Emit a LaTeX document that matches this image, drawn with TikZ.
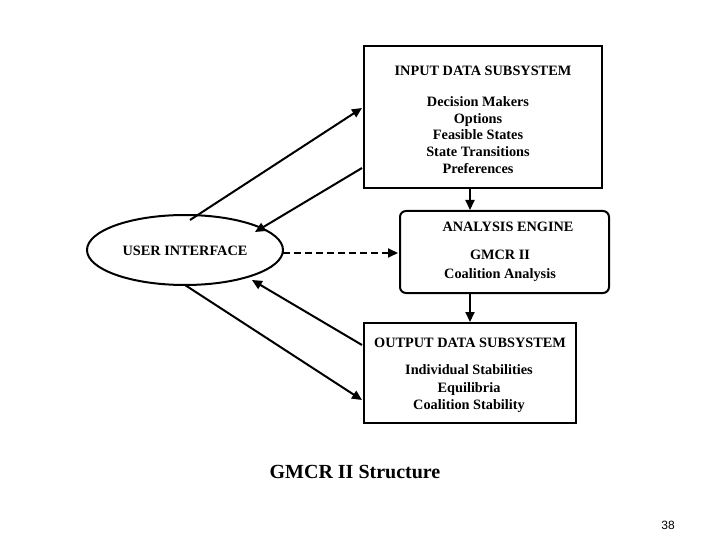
\documentclass[tikz,border=0pt]{standalone}
\usepackage{fontspec}
\setmainfont{Liberation Serif}
\newfontfamily\sans{Liberation Sans}
\usetikzlibrary{arrows.meta,shapes.geometric}
\begin{document}
\begin{tikzpicture}[x=1pt,y=-1pt,
  box/.style={draw,line width=2pt,anchor=north west,inner sep=0pt},
  txt/.style={font=\bfseries\fontsize{14.3}{16}\selectfont,align=center},
  arr/.style={-{Triangle[length=10pt,width=9pt]},line width=2pt}]
\useasboundingbox (0,0) rectangle (720,540);
\node[box,minimum width=238pt,minimum height=142pt] (in) at (363,45) {};
\node[box,rounded corners=6pt,minimum width=209pt,minimum height=82pt] (ae) at (399,210) {};
\node[box,minimum width=212pt,minimum height=100pt] (out) at (363,322) {};
\node[draw,ellipse,line width=2pt,minimum width=196pt,minimum height=70pt] (ui) at (185,250) {};
\node[txt] (t1) at (483,71) {INPUT DATA SUBSYSTEM};
\node[txt,font=\bfseries\fontsize{14.3}{16.8}\selectfont] (t2) at (478,135) {Decision Makers\\Options\\Feasible States\\State Transitions\\Preferences};
\node[txt] (t3) at (508,227) {ANALYSIS ENGINE};
\node[txt,font=\bfseries\fontsize{14.3}{19}\selectfont] (t4) at (500,266) {GMCR II\\Coalition Analysis};
\node[txt] (t5) at (470,343) {OUTPUT DATA SUBSYSTEM};
\node[txt,font=\bfseries\fontsize{14.3}{17.5}\selectfont] (t6) at (469,389) {Individual Stabilities\\Equilibria\\Coalition Stability};
\node[txt] (t7) at (185,251) {USER INTERFACE};
\node[font=\bfseries\fontsize{20}{22}\selectfont] (cap) at (355,472) {GMCR II Structure};
\node[font=\sans\fontsize{12}{14}\selectfont] (pg) at (668,525) {38};
\coordinate (a1) at (190,220); \coordinate (a2) at (362,108);
\coordinate (b1) at (362,168); \coordinate (b2) at (255,232);
\coordinate (c1) at (283,253); \coordinate (c2) at (398,253);
\coordinate (d1) at (362,345); \coordinate (d2) at (252,280);
\coordinate (e1) at (185,285); \coordinate (e2) at (362,400);
\draw[arr] (a1) -- (a2);
\draw[arr] (b1) -- (b2);
\draw[arr,dash pattern=on 7pt off 4pt] (c1) -- (c2);
\draw[arr] (d1) -- (d2);
\draw[arr] (e1) -- (e2);
\draw[arr] (in.south -| 470,0) -- (ae.north -| 470,0);
\draw[arr] (ae.south -| 470,0) -- (out.north -| 470,0);
\end{tikzpicture}
\end{document}
